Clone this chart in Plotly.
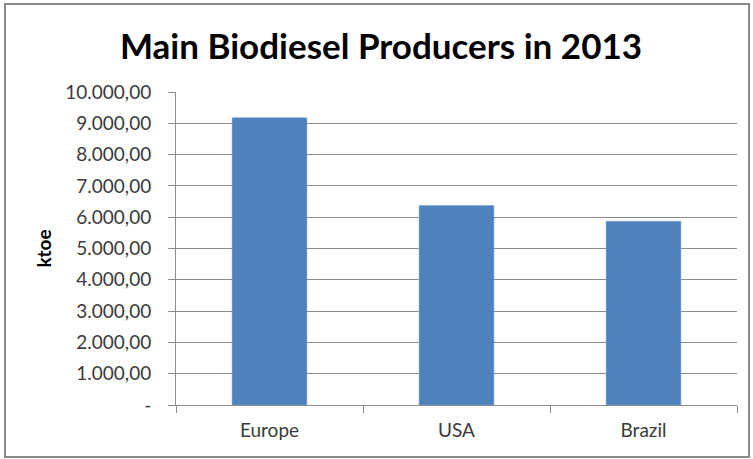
import plotly.graph_objects as go

# ---- data ----
categories = ["Europe", "USA", "Brazil"]
production_ktoe = [9180, 6370, 5870]
y_tick_values = [0, 1000, 2000, 3000, 4000, 5000, 6000, 7000, 8000, 9000, 10000]
y_tick_labels = ["-", "1.000,00", "2.000,00", "3.000,00", "4.000,00", "5.000,00",
                 "6.000,00", "7.000,00", "8.000,00", "9.000,00", "10.000,00"]
title_text = "Main Biodiesel Producers in 2013"
y_title = "ktoe"

# ---- layout geometry (pixels) ----
W, H = 753, 459
ML, MR, MT, MB = 176, 16, 92, 54
pw, ph = W - ML - MR, H - MT - MB

def px_x(x):
    return (x - ML) / pw

def px_y(y):
    return (H - MB - y) / ph

FONT = "Lato, 'Open Sans', sans-serif"
GRID = "#8c8c8c"
TXT = "#3a3a3a"

fig = go.Figure(go.Bar(
    x=categories, y=production_ktoe,
    marker=dict(color="#4F81BD", line=dict(color="#7A9FD0", width=0.5)),
    width=0.4,
))

fig.update_layout(
    width=W, height=H,
    margin=dict(l=ML, r=MR, t=MT, b=MB),
    paper_bgcolor="white", plot_bgcolor="white",
    showlegend=False,
    title=dict(text=title_text, x=px_x(381), xref="paper", xanchor="center",
               y=1 - 47 / H, yref="container", yanchor="middle",
               font=dict(family=FONT, size=35, color="black", weight="bold")),
    font=dict(family=FONT, color=TXT),
)

fig.update_yaxes(
    range=[0, 10000], tickvals=y_tick_values, ticktext=y_tick_labels,
    showgrid=True, gridcolor=GRID, gridwidth=1,
    showline=True, linecolor=GRID, linewidth=1,
    ticks="outside", ticklen=7, tickcolor=GRID,
    ticklabelstandoff=13,
    tickfont=dict(family=FONT, size=19, color=TXT),
    zeroline=False,
    title=dict(text=y_title, standoff=8,
               font=dict(family=FONT, size=19, color="black", weight="bold")),
)

fig.update_xaxes(
    showline=True, linecolor=GRID, linewidth=1,
    ticks="outside", ticklen=7, tickcolor=GRID, tickson="boundaries",
    tickfont=dict(family=FONT, size=19, color=TXT),
    ticklabelstandoff=8,
    showgrid=False,
)

# outer chart border
fig.add_shape(type="rect", xref="paper", yref="paper",
              x0=px_x(5), x1=px_x(749), y0=px_y(457), y1=px_y(4),
              line=dict(color="#8a8a8a", width=2), fillcolor="rgba(0,0,0,0)",
              layer="below")

fig.write_html("out.html", config={"displayModeBar": False},
               post_script="document.body.style.margin='0';document.body.style.padding='0';")
